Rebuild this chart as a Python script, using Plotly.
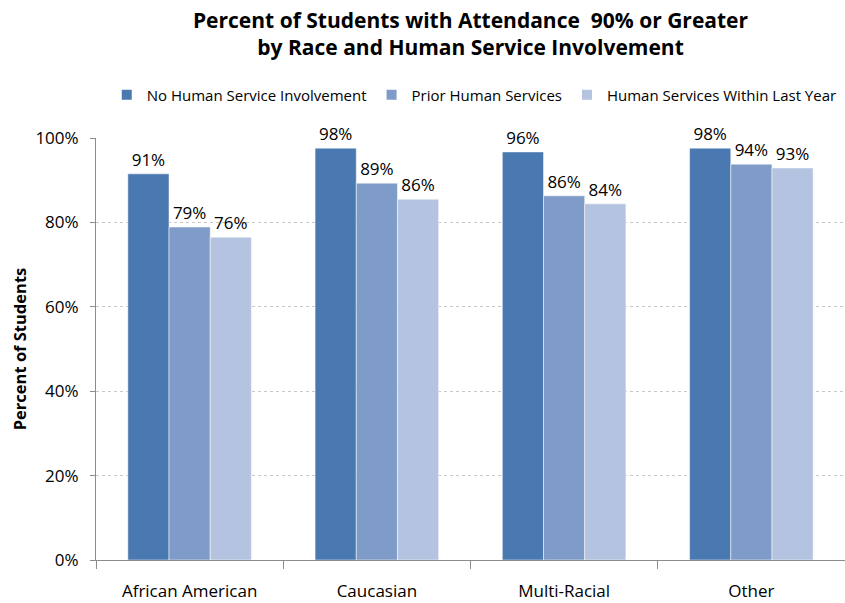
import plotly.graph_objects as go

categories = ["African American", "Caucasian", "Multi-Racial", "Other"]
series_names = ["No Human Service Involvement", "Prior Human Services", "Human Services Within Last Year"]
no_hs = [0.915, 0.976, 0.967, 0.976]
prior_hs = [0.789, 0.893, 0.863, 0.938]
recent_hs = [0.765, 0.855, 0.844, 0.929]
labels_no = ["91%", "98%", "96%", "98%"]
labels_prior = ["79%", "89%", "86%", "94%"]
labels_recent = ["76%", "86%", "84%", "93%"]
colors = ["#4A78B0", "#7F9CC8", "#B4C3DF"]

FONT = "Open Sans, sans-serif"

fig = go.Figure()
for name, vals, labs, c in zip(series_names, [no_hs, prior_hs, recent_hs],
                               [labels_no, labels_prior, labels_recent], colors):
    fig.add_trace(go.Bar(
        x=categories, y=vals, name=name, text=labs, textposition="outside",
        textfont=dict(size=17, color="#000000", family=FONT),
        marker=dict(color=c, line=dict(color="#FFFFFF", width=0.5)),
        cliponaxis=False,
    ))

fig.update_layout(
    width=845, height=603,
    paper_bgcolor="white", plot_bgcolor="white",
    font=dict(family=FONT, color="#000000"),
    title=dict(text="<b>Percent of Students with Attendance  90% or Greater<br>by Race and Human Service Involvement</b>",
               x=0.5, xanchor="center", xref="paper", yref="container", y=0.954, yanchor="middle",
               font=dict(size=21, family=FONT)),
    barmode="group", bargap=0.34, bargroupgap=0,
    margin=dict(l=96, r=0, t=138, b=43, autoexpand=False),
    legend=dict(orientation="h", x=0.505, xanchor="center", xref="paper",
                yref="container", y=0.8425, yanchor="middle",
                font=dict(size=15, family=FONT), traceorder="normal",
                itemwidth=30, itemsizing="constant"),
    xaxis=dict(showline=True, linecolor="#8C8C8C", linewidth=1, automargin=False,
               ticks="outside", tickson="boundaries", ticklen=8, tickcolor="#8C8C8C",
               ticklabelstandoff=16,
               tickfont=dict(size=17, family=FONT)),
    yaxis=dict(range=[0, 1.0], tickformat=".0%", dtick=0.2, automargin=False,
               showline=True, linecolor="#8C8C8C", linewidth=1,
               ticks="outside", ticklen=5, tickcolor="#8C8C8C",
               ticklabelstandoff=8,
               showgrid=True, gridcolor="#C8C8C8", griddash="dot", gridwidth=1,
               zeroline=False,
               tickfont=dict(size=17, family=FONT),
               title=dict(text="<b>Percent of Students</b>", font=dict(size=16.5, family=FONT), standoff=4)),
)
fig.write_html("out.html", config={"displayModeBar": False},
               post_script="document.body.style.margin='0';")
